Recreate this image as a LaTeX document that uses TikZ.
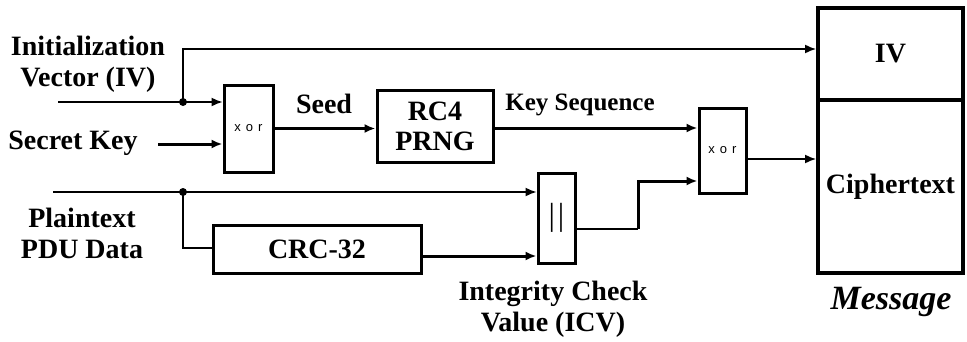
\documentclass[tikz,border=0pt]{standalone}
\usepackage{fontspec}
\setmainfont{Liberation Serif}
\newfontfamily\xorfont{Liberation Sans}
\usetikzlibrary{arrows.meta}
\begin{document}
\begin{tikzpicture}[x=1pt,y=-1pt,
  lbl/.style={inner sep=0pt,align=center,font=\fontsize{28}{31}\selectfont\bfseries},
  blk/.style={draw,line width=3pt,inner sep=0pt,align=center,font=\fontsize{28}{30}\selectfont\bfseries},
  msgbox/.style={draw,line width=4pt,inner sep=0pt,minimum width=145pt,font=\fontsize{28}{30}\selectfont\bfseries},
  xorlbl/.style={font=\xorfont\fontsize{13}{13}\selectfont},
  tip/.style={-{Latex[length=11pt,width=9pt]}},
  thinline/.style={line width=1.5pt},
  thickline/.style={line width=3pt},
  jdot/.style={circle,fill,inner sep=0pt,minimum size=8pt}
]
\useasboundingbox (0,0) rectangle (967,341);

% blocks
\node[blk,minimum width=49pt,minimum height=87pt] (xor1) at (248.5,128.5) {};
\node[xorlbl] (xor1t) at (xor1.center) {x\hspace{5pt}o\hspace{5pt}r};
\node[blk,minimum width=116pt,minimum height=72pt] (rc4) at (435,126) {RC4\\PRNG};
\node[blk,minimum width=47pt,minimum height=85pt] (xor2) at (722.5,150.5) {};
\node[xorlbl] (xor2t) at (xor2.center) {x\hspace{5pt}o\hspace{5pt}r};
\node[blk,minimum width=208pt,minimum height=48pt] (crc) at (317,249) {CRC-32};
\node[blk,minimum width=37pt,minimum height=90pt,font=\fontsize{32}{32}\selectfont\mdseries] (cat) at (556.5,218) {|\hspace{3pt}|};
\node[msgbox,minimum height=92pt] (ivbox) at (890.5,54) {IV};
\node[msgbox,minimum height=173pt] (ctbox) at (890.5,186.5) {Ciphertext};

% labels
\node[lbl] (ivl) at (88,64) {Initialization\\Vector (IV)};
\node[lbl] (skl) at (73,143) {Secret Key};
\node[lbl] (ptl) at (82,233) {Plaintext\\PDU Data};
\node[lbl] (seedl) at (324,104) {Seed};
\node[lbl,font=\fontsize{25}{28}\selectfont\bfseries] (ksl) at (580,105) {Key Sequence};
\node[lbl] (icvl) at (553,309) {Integrity Check\\Value (ICV)};
\node[inner sep=0pt,font=\fontsize{34}{34}\selectfont\bfseries\itshape] (msgl) at (891,302) {Message};

% coordinates
\coordinate (ivin) at (58,102);
\coordinate (dot1) at (183,102);
\coordinate (ivtop) at (183,49);
\coordinate (skin) at (158,144);
\coordinate (ptin) at (53,192);
\coordinate (dot2) at (183,192);
\coordinate (crcin) at (183,248);
\coordinate (ks) at (493,128);
\coordinate (crcout) at (421,256);
\coordinate (catout) at (575,229);
\coordinate (bend1) at (638,229);
\coordinate (bend2) at (638,181);
\coordinate (ctin) at (746,159);

% connectors
\draw[thinline] (ivin) -- (dot1);
\draw[thinline,tip] (dot1) -- (dot1 -| xor1.west);
\draw[thinline,tip] (dot1) -- (ivtop) -- (ivtop -| ivbox.west);
\draw[thickline,tip] (skin) -- (skin -| xor1.west);
\draw[thickline,tip] (xor1.east) -- (xor1.east -| rc4.west);
\draw[thickline,tip] (ks) -- (ks -| xor2.west);
\draw[thinline,tip] (ctin) -- (ctin -| ctbox.west);
\draw[thinline] (ptin) -- (dot2);
\draw[thinline,tip] (dot2) -- (dot2 -| cat.west);
\draw[thinline] (dot2) -- (crcin) -- (crcin -| crc.west);
\draw[thickline,tip] (crcout) -- (crcout -| cat.west);
\draw[thinline] (catout) -- (bend1);
\draw[thickline,tip] (bend1) -- (bend2) -- (bend2 -| xor2.west);

\node[jdot] (d1) at (dot1) {};
\node[jdot] (d2) at (dot2) {};
\end{tikzpicture}
\end{document}
